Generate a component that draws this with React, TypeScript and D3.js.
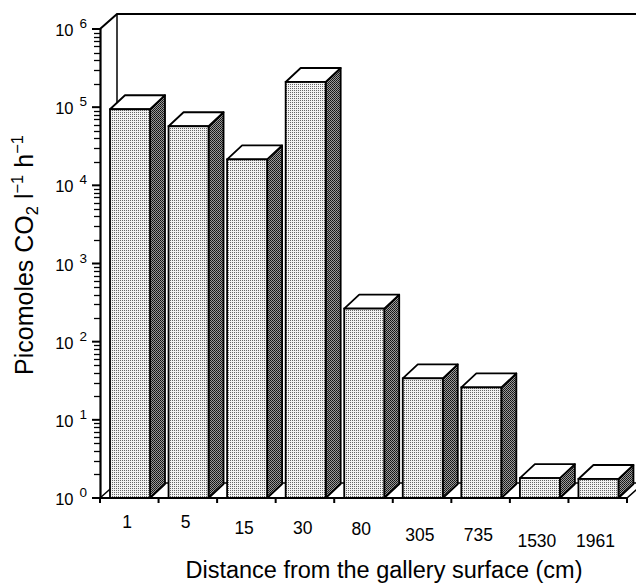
import { useEffect, useRef } from "react";
import * as d3 from "d3";

// distance from the gallery surface (cm)
const distances = ["1", "5", "15", "30", "80", "305", "735", "1530", "1961"];
// picomoles CO2 per litre per hour
const rates = [94000, 57000, 21500, 210000, 265, 34, 26, 1.8, 1.75];
const exponents = [0, 1, 2, 3, 4, 5, 6];

const FONT = "'Liberation Sans', Arial, Helvetica, sans-serif";

function renderChart(element: SVGSVGElement) {
  const left = 100,
    right = 627,
    top = 29,
    bottom = 498;
  const wallDx = 17,
    wallDy = 15;
  const barDx = 15,
    barDy = 14;

  const svg = d3.select(element);
  svg.selectAll("*").remove();

  const defs = svg.append("defs");
  const front = defs
    .append("pattern")
    .attr("id", "frontFill")
    .attr("patternUnits", "userSpaceOnUse")
    .attr("width", 2)
    .attr("height", 2);
  front.append("rect").attr("width", 2).attr("height", 2).attr("fill", "#f2f2f2");
  front.append("rect").attr("width", 1).attr("height", 1).attr("fill", "#666");

  const side = defs
    .append("pattern")
    .attr("id", "sideFill")
    .attr("patternUnits", "userSpaceOnUse")
    .attr("width", 2)
    .attr("height", 2);
  side.append("rect").attr("width", 2).attr("height", 2).attr("fill", "#9a9a9a");
  side.append("rect").attr("width", 1).attr("height", 1).attr("fill", "#111");
  side.append("rect").attr("x", 1).attr("y", 1).attr("width", 1).attr("height", 1).attr("fill", "#222");

  const x = d3.scaleBand().domain(distances).range([left, right]).padding(0);
  const y = d3.scaleLog().domain([1, 1e6]).range([bottom, top]);

  const line = "#000";

  // back wall and left wall
  svg
    .append("path")
    .attr(
      "d",
      `M${left},${top}L${left + wallDx},${top - wallDy}L${right + 40},${top - wallDy}`
    )
    .attr("fill", "none")
    .attr("stroke", line)
    .attr("stroke-width", 2);
  svg
    .append("line")
    .attr("x1", left + wallDx)
    .attr("x2", left + wallDx)
    .attr("y1", top - wallDy)
    .attr("y2", bottom - wallDy)
    .attr("stroke", line)
    .attr("stroke-width", 1.5);

  // floor
  svg
    .append("path")
    .attr(
      "d",
      `M${left},${bottom}L${left + wallDx},${bottom - wallDy}L${right + wallDx},${bottom - wallDy}L${right},${bottom}Z`
    )
    .attr("fill", "#fff")
    .attr("stroke", line)
    .attr("stroke-width", 1.5);

  // bars
  const bars = svg
    .append("g")
    .selectAll("g")
    .data(distances.map((d, i) => ({ d, v: rates[i] })))
    .join("g");

  const fx = (d: { d: string }) => (x(d.d) as number) + 10;
  const bw = 40;

  bars
    .append("path")
    .attr("d", (d) => {
      const x0 = fx(d) + bw,
        yt = y(d.v);
      return `M${x0},${bottom}L${x0 + barDx},${bottom - barDy}L${x0 + barDx},${yt - barDy}L${x0},${yt}Z`;
    })
    .attr("fill", "url(#sideFill)")
    .attr("stroke", line)
    .attr("stroke-width", 1.8)
    .attr("stroke-linejoin", "round");

  bars
    .append("path")
    .attr("d", (d) => {
      const x0 = fx(d),
        yt = y(d.v);
      return `M${x0},${yt}L${x0 + barDx},${yt - barDy}L${x0 + bw + barDx},${yt - barDy}L${x0 + bw},${yt}Z`;
    })
    .attr("fill", "#fff")
    .attr("stroke", line)
    .attr("stroke-width", 1.8)
    .attr("stroke-linejoin", "round");

  bars
    .append("rect")
    .attr("x", fx)
    .attr("y", (d) => y(d.v))
    .attr("width", bw)
    .attr("height", (d) => bottom - y(d.v))
    .attr("fill", "url(#frontFill)")
    .attr("stroke", line)
    .attr("stroke-width", 1.8);

  // y axis with log minor ticks
  const ya = svg.append("g");
  const minor: number[] = [];
  exponents.slice(0, -1).forEach((e) => {
    for (let k = 2; k <= 9; k++) minor.push(k * Math.pow(10, e));
  });
  ya.append("g")
    .selectAll("line")
    .data(minor)
    .join("line")
    .attr("x1", left - 6)
    .attr("x2", left)
    .attr("y1", (d) => Math.round(y(d)) + 0.5)
    .attr("y2", (d) => Math.round(y(d)) + 0.5)
    .attr("stroke", line)
    .attr("stroke-width", 1.3);
  ya.append("g")
    .selectAll("line")
    .data(exponents)
    .join("line")
    .attr("x1", left - 8)
    .attr("x2", left)
    .attr("y1", (e) => y(Math.pow(10, e)))
    .attr("y2", (e) => y(Math.pow(10, e)))
    .attr("stroke", line)
    .attr("stroke-width", 2);
  ya.append("line")
    .attr("x1", left + 0.5)
    .attr("x2", left + 0.5)
    .attr("y1", bottom)
    .attr("y2", top)
    .attr("stroke", line)
    .attr("stroke-width", 2.2);
  const yl = ya
    .append("g")
    .selectAll("text")
    .data(exponents)
    .join("text")
    .attr("x", 87)
    .attr("y", (e) => y(Math.pow(10, e)) + 7)
    .attr("text-anchor", "end")
    .attr("font-family", FONT)
    .attr("font-size", 16.5);
  yl.append("tspan").text("10");
  yl.append("tspan")
    .attr("dx", 6)
    .attr("dy", -8)
    .attr("font-size", 13.5)
    .text((e) => String(e));

  // x axis
  const xa = svg.append("g");
  xa.append("line")
    .attr("x1", left)
    .attr("x2", right)
    .attr("y1", bottom)
    .attr("y2", bottom)
    .attr("stroke", line)
    .attr("stroke-width", 2.2);
  const edges = [...distances.map((d) => x(d) as number), right];
  xa.append("g")
    .selectAll("line")
    .data(edges)
    .join("line")
    .attr("x1", (d) => d)
    .attr("x2", (d) => d)
    .attr("y1", bottom)
    .attr("y2", bottom + 5)
    .attr("stroke", line)
    .attr("stroke-width", 2);
  const drop = [0, 0, 6, 6, 7, 13, 13, 19, 19];
  xa.append("g")
    .selectAll("text")
    .data(distances)
    .join("text")
    .attr("x", (d) => (x(d) as number) + 27)
    .attr("y", (d, i) => bottom + 30 + drop[i])
    .attr("text-anchor", "middle")
    .attr("font-family", FONT)
    .attr("font-size", 17.5)
    .text((d) => d);

  // titles
  svg
    .append("text")
    .attr("x", 384)
    .attr("y", 578)
    .attr("text-anchor", "middle")
    .attr("font-family", FONT)
    .attr("font-size", 23.5)
    .text("Distance from the gallery surface (cm)");

  const yt = svg
    .append("text")
    .attr("transform", "translate(33,255) rotate(-90)")
    .attr("text-anchor", "middle")
    .attr("font-family", FONT)
    .attr("font-size", 25);
  yt.append("tspan").text("Picomoles CO");
  yt.append("tspan").attr("font-size", 16.5).attr("dy", 5).text("2");
  yt.append("tspan").attr("dy", -5).text(" l");
  yt.append("tspan").attr("font-size", 16.5).attr("dy", -10).text("−1");
  yt.append("tspan").attr("dy", 10).text(" h");
  yt.append("tspan").attr("font-size", 16.5).attr("dy", -10).text("−1");
}

export default function App() {
  const ref = useRef<SVGSVGElement>(null);
  useEffect(() => {
    if (ref.current) renderChart(ref.current);
  }, []);
  return (
    <svg
      ref={ref}
      width={636}
      height={584}
      style={{ position: "absolute", left: 0, top: 0, background: "#fff" }}
    />
  );
}
